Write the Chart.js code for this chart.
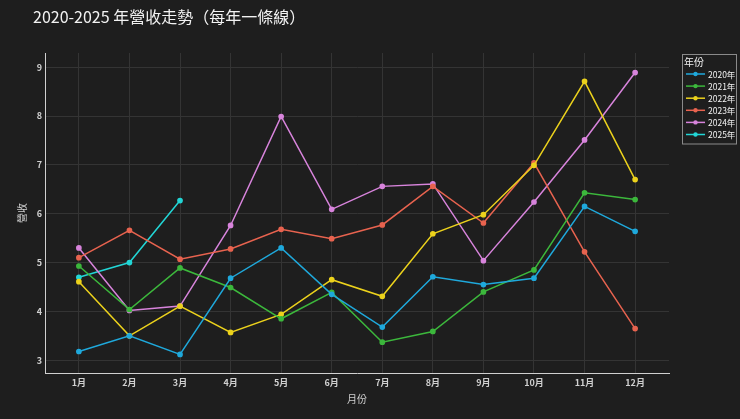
<!DOCTYPE html>
<html>
<head>
<meta charset="utf-8">
<script src="https://cdn.jsdelivr.net/npm/chart.js@4"></script>
<style>
  html, body { margin: 0; padding: 0; background: #1e1e1e; }
  #wrap { width: 740px; height: 419px; }
</style>
</head>
<body>
<div id="wrap"><canvas id="myChart" width="740" height="419"></canvas></div>
<script>
var months = ["1月", "2月", "3月", "4月", "5月", "6月", "7月", "8月", "9月", "10月", "11月", "12月"];
var years = ["2020年", "2021年", "2022年", "2023年", "2024年", "2025年"];
var colors = ["#1fa9dc", "#3cb83c", "#ecd21c", "#e8634f", "#d884dc", "#22d6d6"];

var y2020 = [3.18, 3.50, 3.12, 4.68, 5.30, 4.35, 3.68, 4.71, 4.55, 4.68, 6.15, 5.64];
var y2021 = [4.93, 4.04, 4.89, 4.49, 3.85, 4.39, 3.37, 3.59, 4.40, 4.85, 6.43, 6.29];
var y2022 = [4.61, 3.50, 4.11, 3.57, 3.94, 4.65, 4.31, 5.59, 5.98, 6.99, 8.71, 6.70];
var y2023 = [5.10, 5.66, 5.07, 5.28, 5.68, 5.49, 5.77, 6.56, 5.81, 7.04, 5.22, 3.65];
var y2024 = [5.30, 4.02, 4.11, 5.76, 7.99, 6.09, 6.56, 6.61, 5.04, 6.24, 7.51, 8.89];
var y2025 = [4.70, 5.00, 6.27];

var series = [y2020, y2021, y2022, y2023, y2024, y2025];
var font = "'Noto Sans CJK TC', 'Noto Sans', sans-serif";

toPoints = values => values.map((v, i) => ({ x: i, y: v }));

var datasets = series.map((vals, k) => ({
  label: years[k],
  data: toPoints(vals),
  borderColor: colors[k],
  backgroundColor: colors[k],
  borderWidth: 1.5,
  pointRadius: 2.1,
  pointHoverRadius: 3,
  tension: 0
}));

// background, title and boxed legend
var decor = {
  id: "decor",
  beforeDraw: chart => {
    var ctx = chart.ctx;
    ctx.save();
    ctx.fillStyle = "#1e1e1e";
    ctx.fillRect(0, 0, chart.width, chart.height);
    ctx.restore();
  },
  afterDraw: chart => {
    var ctx = chart.ctx;
    ctx.save();
    ctx.fillStyle = "#f2f2f2";
    ctx.font = "16px " + font;
    ctx.textBaseline = "middle";
    ctx.textAlign = "left";
    ctx.fillText("2020-2025 年營收走勢（每年一條線）", 33, 17);

    // legend box
    ctx.strokeStyle = "#8a8a8a";
    ctx.lineWidth = 1;
    ctx.strokeRect(682.5, 54.5, 54, 89.5);
    ctx.fillStyle = "#f2f2f2";
    ctx.font = "10px " + font;
    ctx.fillText("年份", 684, 62);
    ctx.font = "8.5px " + font;
    chart.data.datasets.forEach((ds, i) => {
      var y = 74 + i * 12.1;
      ctx.strokeStyle = ds.borderColor;
      ctx.lineWidth = 1.5;
      ctx.beginPath();
      ctx.moveTo(686, y);
      ctx.lineTo(705, y);
      ctx.stroke();
      ctx.fillStyle = ds.borderColor;
      ctx.beginPath();
      ctx.arc(695.5, y, 2.2, 0, Math.PI * 2);
      ctx.fill();
      ctx.fillStyle = "#f2f2f2";
      ctx.fillText(ds.label, 708, y + 0.5);
    });
    ctx.restore();
  }
};

var ctx = document.getElementById("myChart");
new Chart(ctx, {
  type: "line",
  data: { datasets: datasets },
  plugins: [decor],
  options: {
    responsive: false,
    animation: false,
    layout: { padding: { top: 53, right: 71, left: 16, bottom: 0 } },
    plugins: {
      legend: { display: false },
      title: { display: false },
      tooltip: { enabled: false }
    },
    scales: {
      x: {
        type: "linear",
        min: -0.67,
        max: 11.67,
        afterFit: scale => { scale.height = 46; },
        border: { color: "#d0d0d0", width: 1 },
        grid: { color: "#343434", drawTicks: false, lineWidth: 1 },
        ticks: {
          stepSize: 1,
          includeBounds: false,
          autoSkip: false,
          maxRotation: 0,
          padding: 4,
          color: "#d0d0d0",
          font: { family: font, size: 9, weight: "bold" },
          callback: v => (Number.isInteger(v) && months[v]) ? months[v] : ""
        },
        title: {
          display: true,
          text: "月份",
          color: "#d0d0d0",
          font: { family: font, size: 10 },
          padding: { top: 8, bottom: 14 }
        }
      },
      y: {
        min: 2.74,
        max: 9.29,
        afterFit: scale => { scale.width = 29; },
        border: { color: "#d0d0d0", width: 1 },
        grid: { color: "#343434", drawTicks: false, lineWidth: 1 },
        ticks: {
          stepSize: 1,
          includeBounds: false,
          padding: 3,
          color: "#d0d0d0",
          font: { family: font, size: 9, weight: "bold" }
        },
        title: {
          display: true,
          text: "營收",
          color: "#d0d0d0",
          font: { family: font, size: 10 },
          padding: { top: 0, bottom: 4 }
        }
      }
    }
  }
});
</script>
</body>
</html>
